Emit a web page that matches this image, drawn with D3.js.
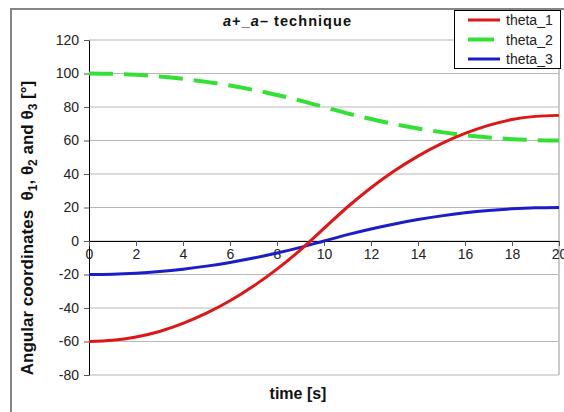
<!DOCTYPE html>
<html>
<head>
<meta charset="utf-8">
<script src="https://cdn.jsdelivr.net/npm/d3@7"></script>
<style>
  html, body { margin: 0; padding: 0; background: #fff; }
  svg { display: block; font-family: "Liberation Sans", Arial, sans-serif; }
</style>
</head>
<body>
<svg id="chart" width="564" height="412"></svg>
<script>
// ---- data ----
const time = [0,1,2,3,4,5,6,7,8,9,10,11,12,13,14,15,16,17,18,19,20];
const theta1 = [-60,-59.3,-57.3,-54,-49.2,-43.1,-35.7,-26.9,-16.8,-5.3,7.5,20.3,31.8,41.9,50.7,58.1,64.2,69,72.5,74.4,75];
const theta2 = [100,99.8,99.2,98.2,96.8,95,92.8,90.2,87.2,83.8,80,76.2,72.8,69.8,67.2,65,63.2,61.8,60.8,60.2,60];
const theta3 = [-20,-19.8,-19.2,-18.2,-16.8,-15,-12.8,-10.2,-7.2,-3.8,0,3.8,7.2,10.2,12.8,15,16.8,18.2,19.2,19.8,20];
const seriesNames = ["theta_1","theta_2","theta_3"];
const xTicks = [0,2,4,6,8,10,12,14,16,18,20];
const yTicks = [-80,-60,-40,-20,0,20,40,60,80,100,120];

const svg = d3.select("#chart");
const L = 89, R = 559, T = 40, B = 375;

const x = d3.scaleLinear().domain([0,20]).range([L,R]);
const y = d3.scaleLinear().domain([-80,120]).range([B,T]);

// outer frame
svg.append("rect").attr("x",11).attr("y",9).attr("width",620).attr("height",500)
  .attr("fill","#fff").attr("stroke","#858585").attr("stroke-width",2);

// gridlines
svg.append("g").selectAll("line").data(yTicks).join("line")
  .attr("x1",L).attr("x2",R).attr("y1",d=>y(d)).attr("y2",d=>y(d))
  .attr("stroke","#b8b8b8").attr("stroke-width",1.2);
// plot area border right
svg.append("line").attr("x1",R).attr("x2",R).attr("y1",T).attr("y2",B)
  .attr("stroke","#b8b8b8").attr("stroke-width",1.5);

const fmt = d => String(d);

// y axis
const yAxis = d3.axisLeft(y).tickValues(yTicks).tickFormat(fmt).tickSize(5).tickPadding(5).tickSizeOuter(0);
const gy = svg.append("g").attr("transform",`translate(${L},0)`).call(yAxis);
gy.select(".domain").attr("stroke","#000");
gy.selectAll(".tick line").attr("stroke","#555");
gy.selectAll("text").attr("font-size",14).attr("fill","#222")
  .attr("font-family","Liberation Sans, Arial, sans-serif");

// x axis at y=0
const xAxis = d3.axisBottom(x).tickValues(xTicks).tickFormat(fmt).tickSize(5).tickPadding(3).tickSizeOuter(0);
const gx = svg.append("g").attr("transform",`translate(0,${y(0)})`).call(xAxis);
gx.select(".domain").attr("stroke","#000");
gx.selectAll(".tick line").attr("stroke","#555");
gx.selectAll("text").attr("font-size",14).attr("fill","#222")
  .attr("font-family","Liberation Sans, Arial, sans-serif");

// lines
const mk = vals => d3.line().x((d,i)=>x(time[i])).y(d=>y(d)).curve(d3.curveMonotoneX)(vals);
const styles = [
  {color:"#e01515", w:3, dash:null},
  {color:"#33e033", w:4, dash:"24,11"},
  {color:"#1c1cc8", w:3, dash:null}
];
const plot = svg.append("g");
plot.append("path").attr("d",mk(theta2)).attr("fill","none")
  .attr("stroke",styles[1].color).attr("stroke-width",styles[1].w).attr("stroke-dasharray",styles[1].dash);
plot.append("path").attr("d",mk(theta3)).attr("fill","none")
  .attr("stroke",styles[2].color).attr("stroke-width",styles[2].w);
plot.append("path").attr("d",mk(theta1)).attr("fill","none")
  .attr("stroke",styles[0].color).attr("stroke-width",styles[0].w);

// title
const title = svg.append("text").attr("x",287).attr("y",26).attr("text-anchor","middle")
  .attr("font-size",14.5).attr("font-weight","bold").attr("fill","#111")
  .attr("textLength",128).attr("lengthAdjust","spacing");
title.append("tspan").attr("font-style","italic").text("a");
title.append("tspan").text("+_");
title.append("tspan").attr("font-style","italic").text("a");
title.append("tspan").text("\u2013 technique");

// x title
svg.append("text").attr("x",298).attr("y",399).attr("text-anchor","middle")
  .attr("font-size",16).attr("font-weight","bold").attr("fill","#111").text("time [s]");

// y title
const yt = svg.append("text").attr("transform","translate(33,228) rotate(-90)")
  .attr("text-anchor","middle").attr("font-size",17).attr("font-weight","bold").attr("fill","#111");
yt.append("tspan").text("Angular coordinates\u00a0\u00a0\u03b8");
yt.append("tspan").attr("font-size",12).attr("dy",4).text("1");
yt.append("tspan").attr("dy",-4).text(", \u03b8");
yt.append("tspan").attr("font-size",12).attr("dy",4).text("2");
yt.append("tspan").attr("dy",-4).text(" and \u03b8");
yt.append("tspan").attr("font-size",12).attr("dy",4).text("3");
yt.append("tspan").attr("dy",-4).text(" [\u00b0]");

// legend
const lg = svg.append("g");
lg.append("rect").attr("x",454.5).attr("y",10.5).attr("width",106).attr("height",58)
  .attr("fill","#fff").attr("stroke","#000").attr("stroke-width",1);
seriesNames.forEach((n,i)=>{
  const yy = 20 + i*19.5;
  lg.append("line").attr("x1",468).attr("x2",i===1?494:500).attr("y1",yy).attr("y2",yy)
    .attr("stroke",styles[i].color).attr("stroke-width",i===1?4:3);
  lg.append("text").attr("x",506).attr("y",yy+5).attr("font-size",14).attr("fill","#222").text(n);
});
</script>
</body>
</html>
